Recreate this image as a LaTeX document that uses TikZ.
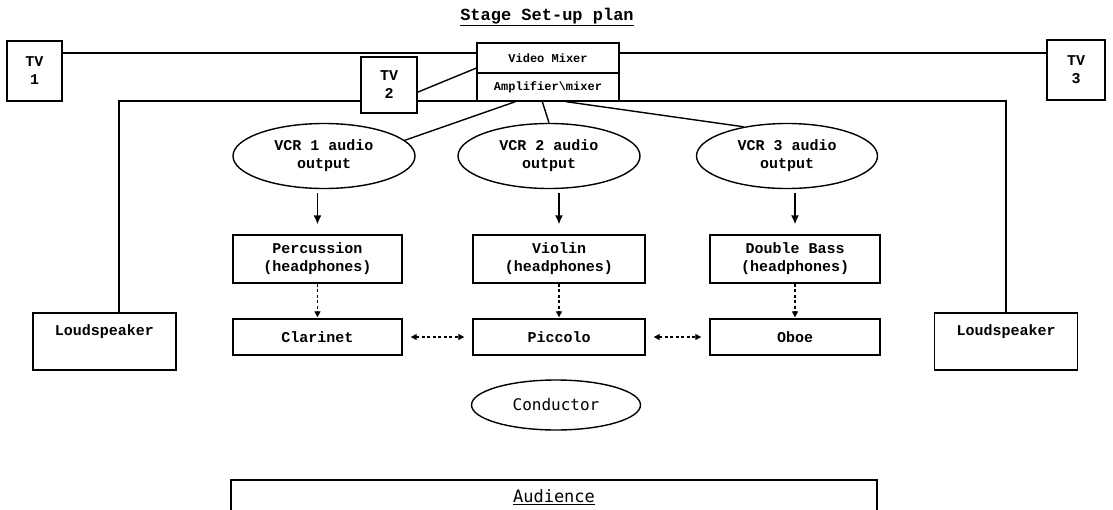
\documentclass[tikz,border=0pt]{standalone}
\usepackage{fontspec}
\newfontfamily\cmono{Liberation Mono}
\newfontfamily\dmono{DejaVu Sans Mono}
\usetikzlibrary{arrows.meta,shapes.geometric,calc}
\tikzset{
  base/.style={draw, line width=1.4pt, fill=white, inner sep=0pt, align=center,
    font=\cmono\bfseries\fontsize{15}{18}\selectfont},
  box/.style={base, rectangle},
  oval/.style={base, ellipse},
  smallbox/.style={box, font=\cmono\bfseries\fontsize{12}{14}\selectfont},
  conn/.style={line width=1.4pt},
  arr/.style={conn, -{Latex[length=9pt,width=8pt]}},
  dotarr/.style={line width=1.3pt, dash pattern=on 3pt off 2.5pt, -{Triangle[length=6pt,width=6pt]}},
  dotdbl/.style={line width=1.3pt, dash pattern=on 3pt off 2.5pt,
    {Triangle[length=6pt,width=6pt]}-{Triangle[length=6pt,width=6pt]}},
}
\begin{document}
\begin{tikzpicture}[x=1pt,y=-1pt]
\useasboundingbox (0,0) rectangle (1113,509);
\fill[white] (0,0) rectangle (1113,509);

% title
\node[font=\cmono\bfseries\fontsize{17}{20}\selectfont] (title) at (547,17) {\underline{Stage Set-up plan}};

% bus line to loudspeakers
\coordinate (busL) at (119,101);
\coordinate (busR) at (1006,101);
\node[box, text height=22pt, text depth=35pt, minimum width=143, anchor=base, align=none] (lsL) at (104.5,335) {Loudspeaker};
\node[box, text height=22pt, text depth=35pt, minimum width=143, anchor=base, align=none] (lsR) at (1006,335) {Loudspeaker};
\draw[conn] (lsL.north -| busL) -- (busL) -- (busR) -- (lsR.north -| busR);

% mixer and TVs
\node[smallbox, minimum width=142, minimum height=30] (vmix) at (548,58) {Video Mixer};
\node[smallbox, minimum width=142, minimum height=28] (amp) at (548,87) {Amplifier\textbackslash mixer};
\node[box, minimum width=55, minimum height=60] (tv1) at (34.5,71) {TV\\1};
\node[box, minimum width=56, minimum height=56] (tv2) at (389,85) {TV\\2};
\node[box, minimum width=58, minimum height=60] (tv3) at (1076,70) {TV\\3};
\draw[conn] (tv1.east |- vmix.176) -- (vmix.176);
\draw[conn] (vmix.4) -- (tv3.west |- vmix.4);
\draw[conn] (tv2.-14) -- (vmix.188);

% VCR outputs
\node[oval, minimum width=182, minimum height=65] (vcr1) at (324,156) {VCR 1 audio\\output};
\node[oval, minimum width=182, minimum height=65] (vcr2) at (549,156) {VCR 2 audio\\output};
\node[oval, minimum width=181, minimum height=65] (vcr3) at (787,156) {VCR 3 audio\\output};
\draw[conn] ($(amp.south west)+(39,0)$) -- (vcr1.11);
\draw[conn] ($(amp.south west)+(66,0)$) -- (vcr2.north);
\draw[conn] ($(amp.south west)+(90,0)$) -- (vcr3.146);

% players
\node[box, minimum width=169, minimum height=48] (perc) at (317.5,259) {Percussion\\(headphones)};
\node[box, minimum width=172, minimum height=48] (viol) at (559,259) {Violin\\(headphones)};
\node[box, minimum width=170, minimum height=48] (dbass) at (795,259) {Double Bass\\(headphones)};
\node[box, minimum width=169, minimum height=36] (clar) at (317.5,337) {Clarinet};
\node[box, minimum width=172, minimum height=36] (picc) at (559,337) {Piccolo};
\node[box, minimum width=170, minimum height=36] (oboe) at (795,337) {Oboe};

\draw[arr, shorten <=4pt, shorten >=10pt] (perc.north |- vcr1.south) -- (perc.north);
\draw[arr, shorten <=4pt, shorten >=10pt] (viol.north |- vcr2.south) -- (viol.north);
\draw[arr, shorten <=4pt, shorten >=10pt] (dbass.north |- vcr3.south) -- (dbass.north);

\draw[dotarr, shorten >=1pt] (perc.south) -- (clar.north);
\draw[dotarr, shorten >=1pt] (viol.south) -- (picc.north);
\draw[dotarr, shorten >=1pt] (dbass.south) -- (oboe.north);

\draw[dotdbl, shorten <=8pt, shorten >=8pt] (clar.east) -- (picc.west);
\draw[dotdbl, shorten <=8pt, shorten >=8pt] (picc.east) -- (oboe.west);

% conductor and audience
\node[oval, minimum width=169, minimum height=50, font=\dmono\fontsize{16}{19}\selectfont] (cond) at (556,405) {Conductor};
\node[box, minimum width=646, minimum height=34, font=\dmono\fontsize{17}{20}\selectfont] (aud) at (554,497) {\underline{Audience}};
\end{tikzpicture}
\end{document}
